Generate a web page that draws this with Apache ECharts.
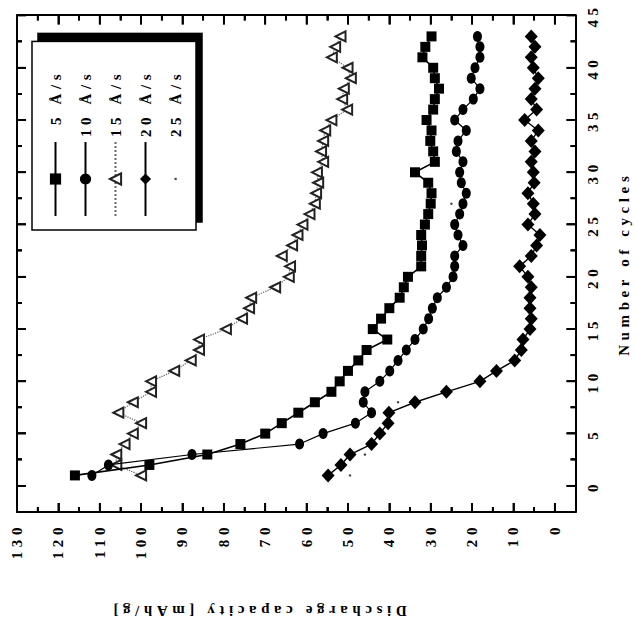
<!DOCTYPE html>
<html>
<head>
<meta charset="utf-8">
<script src="https://cdn.jsdelivr.net/npm/echarts@6/dist/echarts.min.js"></script>
<style>
html,body{margin:0;padding:0;background:#fff;overflow:hidden;width:638px;height:629px;}
#chart{position:absolute;left:0;top:0;width:629px;height:638px;transform-origin:0 0;transform:translateY(629px) rotate(-90deg);}
#chart text{letter-spacing:4.6px;}
</style>
</head>
<body>
<div id="chart"></div>
<script>
// ---- data ----
const cycles = [1,2,3,4,5,6,7,8,9,10,11,12,13,14,15,16,17,18,19,20,21,22,23,24,25,26,27,28,29,30,31,32,33,34,35,36,37,38,39,40,41,42,43];
const rate5 = [116,98,84,76,70,66,62,58,54,52,50,47.5,45.5,40.5,44,42,40,37.5,36.5,35.5,32.3,32.3,32.1,32.3,31.4,30.6,30,29.8,30.6,33.8,29,29.4,30.1,29.8,31,29.4,29,28,29,29.4,32,31.3,29.8];
const rate10 = [111.9,107.9,87.7,61.7,56,48.2,44.3,46.3,45.9,42.3,39.9,37.9,35.9,33.8,31.8,30.5,29.6,28.4,26.2,24.6,24.2,24.2,22.2,23.4,24.2,23,22.2,21.4,22.6,23,22.2,23.8,23.4,21.4,24.2,22.2,19.7,18.1,20.2,19.3,18.1,18.1,18.7];
const rate15 = [100,106,106,104,102,100,105.5,102,97.6,97.6,92,88,86,86,79.5,75.6,73.9,73.4,67.6,64.3,64,66,63.5,62.2,61,59.3,58,57.7,57.2,57.5,56,56.5,56,55.5,54,50.2,51.4,51,49.3,50.1,53.9,53.1,51.8];
const rate20 = [54.8,51.7,49.5,44.3,42.3,40.3,40.1,33.8,26.2,18.1,14.1,9.7,8.1,7.7,6,5.7,6,6,5.7,6.5,8.5,5.7,4.4,3.6,6.5,4.8,5.2,6.5,5,5.2,5.7,4.8,5.7,4,7.3,4.4,5.7,4.8,4,5.2,5.7,4.8,5.7];
const cycles25 = [1,3,8,27];
const rate25 = [49.5,45.9,37.9,25];
const seriesNames = ['5 Å/s','10 Å/s','15 Å/s','20 Å/s','25 Å/s'];
const cycleTicks = [0,5,10,15,20,25,30,35,40,45];
const cycleMinorTicks = [2.5,7.5,12.5,17.5,22.5,27.5,32.5,37.5,42.5];
const capTicks = [0,10,20,30,40,50,60,70,80,90,100,110,120,130];
const capMinorTicks = [5,15,25,35,45,55,65,75,85,95,105,115,125];
const xTitle = 'Number of cycles';
const yTitle = 'Discharge capacity [mAh/g]';

// ---- chart ----
const FONT = '"Liberation Serif", "Times New Roman", serif';
const txt = {fontFamily: FONT, fontSize: 15, fontWeight: 'bold', color: '#000'};
const pairs = (xs, ys) => xs.map((x, i) => [x, ys[i]]);
const X_MIN = -2.5, X_MAX = 45, Y_MIN = -5, Y_MAX = 130;
const MAJOR = 9, MINOR = 5;

function xAx(position, ticks, len, withLabels, withLine) {
  const a = {
    type: 'value', min: X_MIN, max: X_MAX, position: position,
    axisLine: {show: withLine, onZero: false, lineStyle: {color: '#000', width: 2}}, splitLine: {show: false},
    axisTick: {show: true, inside: true, length: len, customValues: ticks, lineStyle: {color: '#000', width: 1.8}},
    axisLabel: {show: withLabels, customValues: ticks, margin: 10, ...txt}
  };
  if (withLabels) {
    a.name = xTitle; a.nameLocation = 'middle'; a.nameGap = 41;
    a.nameTextStyle = {...txt};
  }
  return a;
}
function yAx(position, ticks, len, withLabels, withLine) {
  const a = {
    type: 'value', min: Y_MIN, max: Y_MAX, position: position,
    axisLine: {show: withLine, onZero: false, lineStyle: {color: '#000', width: 2}}, splitLine: {show: false},
    axisTick: {show: true, inside: true, length: len, customValues: ticks, lineStyle: {color: '#000', width: 1.8}},
    axisLabel: {show: withLabels, customValues: ticks, margin: 11, ...txt}
  };
  if (withLabels) {
    a.name = yTitle; a.nameLocation = 'middle'; a.nameGap = 91;
    a.nameTextStyle = {...txt, padding: [0, 0, 0, 77]};
  }
  return a;
}

// inward tick marks on all four frame edges, placed through the axis scales
const tickStyle = {stroke: '#000', lineWidth: 1.8};
function capTickItem(params, api) {
  const v = api.value(0), len = api.value(1);
  const a = api.coord([X_MIN, v]), b = api.coord([X_MAX, v]);
  return {type: 'group', children: [
    {type: 'line', shape: {x1: a[0], y1: a[1], x2: a[0] + len, y2: a[1]}, style: tickStyle},
    {type: 'line', shape: {x1: b[0], y1: b[1], x2: b[0] - len, y2: b[1]}, style: tickStyle}
  ]};
}
function cycTickItem(params, api) {
  const v = api.value(0), len = api.value(1);
  const a = api.coord([v, Y_MIN]), b = api.coord([v, Y_MAX]);
  return {type: 'group', children: [
    {type: 'line', shape: {x1: a[0], y1: a[1], x2: a[0], y2: a[1] - len}, style: tickStyle},
    {type: 'line', shape: {x1: b[0], y1: b[1], x2: b[0], y2: b[1] + len}, style: tickStyle}
  ]};
}
const capTickData = capTicks.map(v => [v, MAJOR]).concat(capMinorTicks.map(v => [v, MINOR]));
const cycTickData = cycleTicks.map(v => [v, MAJOR]).concat(cycleMinorTicks.map(v => [v, MINOR]));

const chart = echarts.init(document.getElementById('chart'), null, {renderer: 'svg', width: 629, height: 638});
chart.setOption({
  animation: false,
  backgroundColor: '#fff',
  grid: {left: 117, right: 15.5, top: 17, bottom: 62.5, show: false},
  xAxis: [xAx('bottom', cycleTicks, MAJOR, true, true), xAx('bottom', cycleMinorTicks, MINOR, false, false),
          xAx('top', cycleTicks, MAJOR, false, true), xAx('top', cycleMinorTicks, MINOR, false, false)],
  yAxis: [yAx('left', capTicks, MAJOR, true, true), yAx('left', capMinorTicks, MINOR, false, false),
          yAx('right', capTicks, MAJOR, false, true), yAx('right', capMinorTicks, MINOR, false, false)],
  legend: {
    orient: 'vertical', left: 399, top: 32,
    itemWidth: 74, itemHeight: 14, itemGap: 15,
    padding: [16, 56, 13, 13],
    backgroundColor: '#fff', borderColor: '#000', borderWidth: 1.5,
    shadowColor: '#000', shadowBlur: 0, shadowOffsetX: 8, shadowOffsetY: 6,
    textStyle: {...txt},
    selectedMode: false,
    formatter: n => (n === seriesNames[0] ? '\u2007' + n : n),
    data: [seriesNames[0], seriesNames[1], seriesNames[2], seriesNames[3],
      {name: seriesNames[4], icon: 'path://M0 0M74 14M36 6h2.2v2.2h-2.2z'}]
  },
  series: [
    {type: 'custom', renderItem: capTickItem, data: capTickData, silent: true, clip: false, z: 1},
    {type: 'custom', renderItem: cycTickItem, data: cycTickData, silent: true, clip: false, z: 1},
    {name: seriesNames[0], type: 'line', data: pairs(cycles, rate5), symbol: 'rect', symbolSize: 10,
      itemStyle: {color: '#000'}, lineStyle: {color: '#000', width: 1.6}, z: 5},
    {name: seriesNames[1], type: 'line', data: pairs(cycles, rate10), symbol: 'circle', symbolSize: [11, 9],
      itemStyle: {color: '#000'}, lineStyle: {color: '#000', width: 1.2}, z: 4},
    {name: seriesNames[2], type: 'line', data: pairs(cycles, rate15), symbol: 'emptyTriangle', symbolSize: 10,
      itemStyle: {color: '#222', borderWidth: 1.1}, lineStyle: {color: '#666', width: 1.2, type: 'dotted'}, z: 3},
    {name: seriesNames[3], type: 'line', data: pairs(cycles, rate20), symbol: 'diamond', symbolSize: [14, 13],
      itemStyle: {color: '#000'}, lineStyle: {color: '#000', width: 1.4}, z: 6},
    {name: seriesNames[4], type: 'line', data: pairs(cycles25, rate25), symbol: 'circle', symbolSize: 2.5,
      itemStyle: {color: '#444'}, lineStyle: {width: 0, opacity: 0}, z: 2}
  ]
});
</script>
</body>
</html>
